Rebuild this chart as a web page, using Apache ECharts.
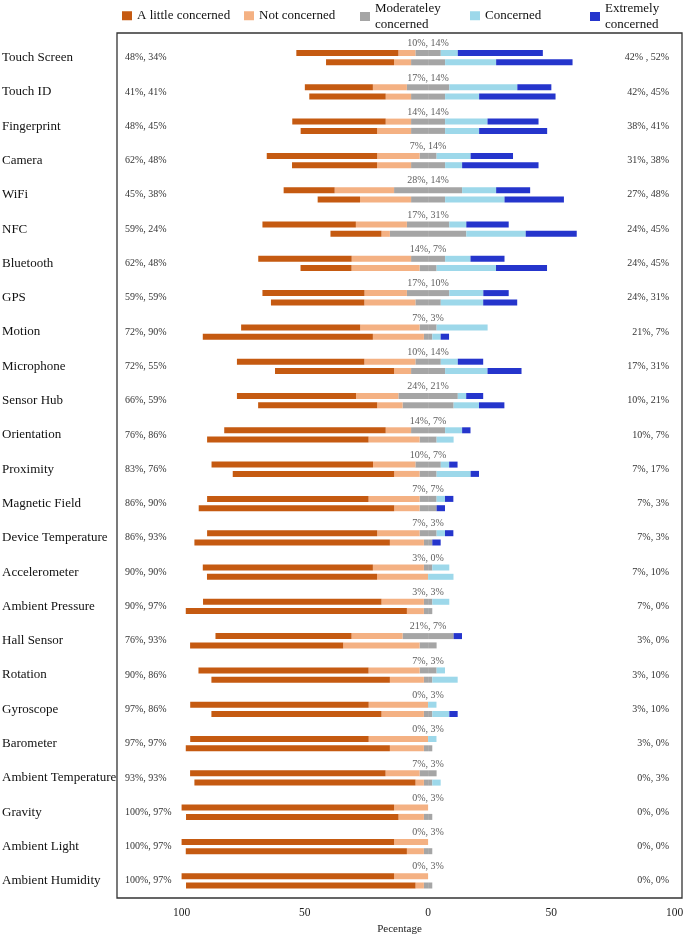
<!DOCTYPE html>
<html>
<head>
<meta charset="utf-8">
<script src="https://cdn.jsdelivr.net/npm/echarts@6/dist/echarts.min.js"></script>
<style>
html,body{margin:0;padding:0;background:#fff;}
#chart{width:685px;height:936px;}
</style>
</head>
<body>
<div id="chart"></div>
<script>
const sensors = ['Touch Screen','Touch ID','Fingerprint','Camera','WiFi','NFC','Bluetooth','GPS','Motion','Microphone','Sensor Hub','Orientation','Proximity','Magnetic Field','Device Temperature','Accelerometer','Ambient Pressure','Hall Sensor','Rotation','Gyroscope','Barometer','Ambient Temperature','Gravity','Ambient Light','Ambient Humidity'];

// upper bar of each pair (%)
const littleTop = [41.4, 27.6, 37.9, 44.8, 20.7, 37.9, 37.9, 41.4, 48.3, 51.7, 48.3, 65.5, 65.5, 65.5, 69.0, 69.0, 72.4, 55.2, 69.0, 72.4, 72.4, 79.3, 86.2, 86.2, 86.2];
const notTop    = [6.9, 13.8, 10.3, 17.2, 24.1, 20.7, 24.1, 17.2, 24.1, 20.7, 17.2, 10.3, 17.2, 20.7, 17.2, 20.7, 17.2, 20.7, 20.7, 24.1, 24.1, 13.8, 13.8, 13.8, 13.8];
const modTop    = [10.3, 17.2, 13.8, 6.9, 27.6, 17.2, 13.8, 17.2, 6.9, 10.3, 24.1, 13.8, 10.3, 6.9, 6.9, 3.4, 3.4, 20.7, 6.9, 0, 0, 6.9, 0, 0, 0];
const concTop   = [6.9, 27.6, 17.2, 13.8, 13.8, 6.9, 10.3, 13.8, 20.7, 6.9, 3.4, 6.9, 3.4, 3.4, 3.4, 6.9, 6.9, 0, 3.4, 3.4, 3.4, 0, 0, 0, 0];
const extTop    = [34.5, 13.8, 20.7, 17.2, 13.8, 17.2, 13.8, 10.3, 0, 10.3, 6.9, 3.4, 3.4, 3.4, 3.4, 0, 0, 3.4, 0, 0, 0, 0, 0, 0, 0];

// lower bar of each pair (%)
const littleBot = [27.6, 31.0, 31.0, 34.5, 17.2, 20.7, 20.7, 37.9, 69.0, 48.3, 48.3, 65.5, 65.5, 79.3, 79.3, 69.0, 89.7, 62.1, 72.4, 69.0, 82.8, 89.7, 86.2, 89.7, 93.1];
const notBot    = [6.9, 10.3, 13.8, 13.8, 20.7, 3.4, 27.6, 20.7, 20.7, 6.9, 10.3, 20.7, 10.3, 10.3, 13.8, 20.7, 6.9, 31.0, 13.8, 17.2, 13.8, 3.4, 10.3, 6.9, 3.4];
const modBot    = [13.8, 13.8, 13.8, 13.8, 13.8, 31.0, 6.9, 10.3, 3.4, 13.8, 20.7, 6.9, 6.9, 6.9, 3.4, 0, 3.4, 6.9, 3.4, 3.4, 3.4, 3.4, 3.4, 3.4, 3.4];
const concBot   = [20.7, 13.8, 13.8, 6.9, 24.1, 24.1, 24.1, 17.2, 3.4, 17.2, 10.3, 6.9, 13.8, 0, 0, 10.3, 0, 0, 10.3, 6.9, 0, 3.4, 0, 0, 0];
const extBot    = [31.0, 31.0, 27.6, 31.0, 24.1, 20.7, 20.7, 13.8, 3.4, 13.8, 10.3, 0, 3.4, 3.4, 3.4, 0, 0, 0, 0, 3.4, 0, 0, 0, 0, 0];

const leftLabels  = ['48%, 34%','41%, 41%','48%, 45%','62%, 48%','45%, 38%','59%, 24%','62%, 48%','59%, 59%','72%, 90%','72%, 55%','66%, 59%','76%, 86%','83%, 76%','86%, 90%','86%, 93%','90%, 90%','90%, 97%','76%, 93%','90%, 86%','97%, 86%','97%, 97%','93%, 93%','100%, 97%','100%, 97%','100%, 97%'];
const modLabels   = ['10%, 14%','17%, 14%','14%, 14%','7%, 14%','28%, 14%','17%, 31%','14%, 7%','17%, 10%','7%, 3%','10%, 14%','24%, 21%','14%, 7%','10%, 7%','7%, 7%','7%, 3%','3%, 0%','3%, 3%','21%, 7%','7%, 3%','0%, 3%','0%, 3%','7%, 3%','0%, 3%','0%, 3%','0%, 3%'];
const rightLabels = ['42% , 52%','42%, 45%','38%, 41%','31%, 38%','27%, 48%','24%, 45%','24%, 45%','24%, 31%','21%, 7%','17%, 31%','10%, 21%','10%, 7%','7%, 17%','7%, 3%','7%, 3%','7%, 10%','7%, 0%','3%, 0%','3%, 10%','3%, 10%','3%, 0%','0%, 3%','0%, 0%','0%, 0%','0%, 0%'];
const xTicks = [-100, -50, 0, 50, 100];

const NAMES = {
  little: 'A little concerned',
  not: 'Not concerned',
  mod: 'Moderateley\nconcerned',
  conc: 'Concerned',
  ext: 'Extremely\nconcerned'
};
const COLORS = {
  little: '#c55a11',
  not: '#f4b183',
  mod: '#a5a5a5',
  conc: '#9dd8ea',
  ext: '#2535cc'
};
const FONT = "'Liberation Serif', 'Times New Roman', serif";

function bar(key, stack, data) {
  return {
    type: 'bar', name: NAMES[key], stack: stack, data: data,
    xAxisIndex: 0, yAxisIndex: 0,
    barWidth: 6, barGap: '55%',
    itemStyle: { color: COLORS[key] },
    silent: true, emphasis: { disabled: true }
  };
}
function addPair(series, stack, little, not, mod, conc, ext) {
  series.push(bar('mod', stack, mod.map(v => -v / 2)));
  series.push(bar('not', stack, not.map(v => -v)));
  series.push(bar('little', stack, little.map(v => -v)));
  series.push(bar('mod', stack, mod.map(v => v / 2)));
  series.push(bar('conc', stack, conc));
  series.push(bar('ext', stack, ext));
}
const series = [];
addPair(series, 'top', littleTop, notTop, modTop, concTop, extTop);
addPair(series, 'bottom', littleBot, notBot, modBot, concBot, extBot);
series.push({
  type: 'scatter', name: 'modLabels', xAxisIndex: 0, yAxisIndex: 0,
  symbolSize: 0, silent: true,
  data: sensors.map((s, i) => [0, i]),
  label: {
    show: true, position: 'inside', offset: [0, -14],
    formatter: p => modLabels[p.dataIndex],
    fontFamily: FONT, fontSize: 10, color: '#333'
  },
  z: 5
});

function legend(key, left, top) {
  return {
    left: left, top: top, padding: 0, data: [NAMES[key]],
    itemWidth: 10, itemHeight: 9, icon: 'rect',
    selectedMode: false,
    textStyle: { fontFamily: FONT, fontSize: 13, color: '#111', lineHeight: 15.5 }
  };
}

const option = {
  backgroundColor: '#fff',
  animation: false,
  legend: [
    legend('little', 122, 8),
    legend('not', 244, 8),
    legend('mod', 360, 1),
    legend('conc', 470, 8),
    legend('ext', 590, 1)
  ],
  grid: [
    { left: 117, right: 3, top: 40.5, bottom: 38, show: false, outerBoundsMode: 'none', containLabel: false },
    { left: 117, right: 3, top: 33, bottom: 38, show: true, borderColor: '#333', borderWidth: 1.3, backgroundColor: 'transparent', outerBoundsMode: 'none', containLabel: false }
  ],
  xAxis: [
    {
      type: 'value', gridIndex: 0, min: -126.2, max: 103,
      axisLine: { show: false }, axisTick: { show: false }, splitLine: { show: false },
      axisLabel: {
        customValues: xTicks, formatter: v => String(Math.abs(v)),
        margin: 9, fontFamily: FONT, fontSize: 11.5, color: '#222'
      },
      name: 'Pecentage', nameLocation: 'middle', nameGap: 25,
      nameTextStyle: { fontFamily: FONT, fontSize: 11, color: '#222' }
    },
    { type: 'value', gridIndex: 1, show: false }
  ],
  yAxis: [
    {
      type: 'category', gridIndex: 0, data: sensors, inverse: true,
      axisLine: { show: false }, axisTick: { show: false }, splitLine: { show: false },
      axisLabel: {
        margin: 115, align: 'left', interval: 0,
        formatter: (v, i) => '{n|' + v + '}{p|' + leftLabels[i] + '}',
        rich: {
          n: { width: 123, fontFamily: FONT, fontSize: 13, color: '#111', verticalAlign: 'middle' },
          p: { fontFamily: FONT, fontSize: 10, color: '#333', verticalAlign: 'middle' }
        }
      }
    },
    {
      type: 'category', gridIndex: 0, data: sensors, inverse: true, position: 'right',
      axisLine: { show: false }, axisTick: { show: false }, splitLine: { show: false },
      axisLabel: {
        inside: true, margin: 13, align: 'right', interval: 0,
        formatter: (v, i) => rightLabels[i],
        fontFamily: FONT, fontSize: 10, color: '#333'
      }
    },
    { type: 'value', gridIndex: 1, show: false }
  ],
  series: series
};
const chart = echarts.init(document.getElementById('chart'), null, { renderer: 'canvas' });
chart.setOption(option);
</script>
</body>
</html>
